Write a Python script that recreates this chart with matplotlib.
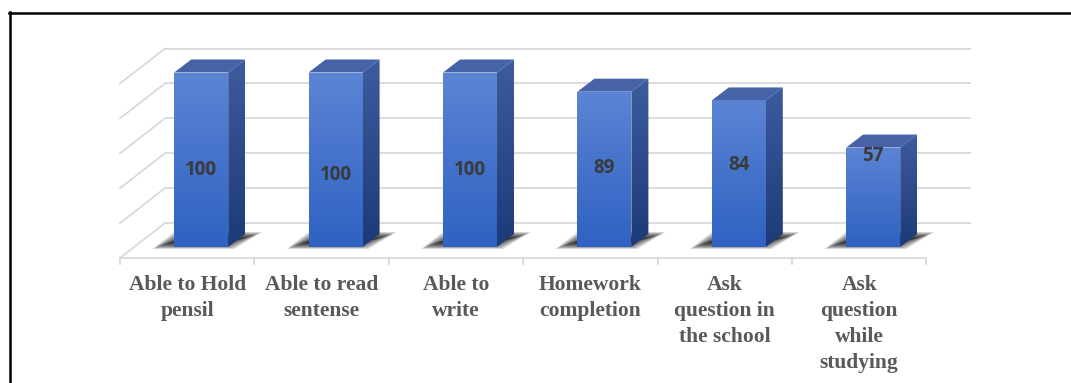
import matplotlib
matplotlib.use("Agg")
import matplotlib.pyplot as plt
import numpy as np
from matplotlib.patches import Polygon
from matplotlib.colors import to_rgb
from matplotlib.lines import Line2D

# ---- data ----
categories = ["Able to Hold\npensil", "Able to read\nsentense", "Able to\nwrite",
              "Homework\ncompletion", "Ask\nquestion in\nthe school",
              "Ask\nquestion\nwhile\nstudying"]
values = [100, 100, 100, 89, 84, 57]
value_labels = ["100", "100", "100", "89", "84", "57"]
gridline_values = [0, 20, 40, 60, 80, 100]
label_y = [44, 41, 44, 45, 47, 52]   # vertical placement of the value labels

# ---- geometry (pixels) ----
W, H = 1071, 383
CAT_PX = 134.4      # pixels per category
VAL_PX = 1.745      # pixels per value unit
X0_PX = 134         # pixel x of category -0.5 in the bar front plane
Y0_PX = 247         # pixel y of value 0 in the bar front plane

def off(dx_px, dy_up_px):
    return dx_px / CAT_PX, dy_up_px / VAL_PX

BACK = off(31, 24)
FRONT = off(-14, -11)
DEPTH = off(17, 13)
BAR_W = 54 / CAT_PX

fig = plt.figure(figsize=(W / 100, H / 100), dpi=100)
ax = fig.add_axes([0, 0, 1, 1])
ax.axis("off")
xlim = (-0.5 - X0_PX / CAT_PX, -0.5 + (W - X0_PX) / CAT_PX)
ylim = (-(H - Y0_PX) / VAL_PX, Y0_PX / VAL_PX)

grid_c = "#d9d9d9"
n = len(categories)
xl, xr = -0.5, n - 0.5

# back wall + side wall gridlines
for v in gridline_values:
    ax.plot([xl + BACK[0], xr + BACK[0]], [v + BACK[1]] * 2, color=grid_c, lw=1.3, zorder=1,
            solid_capstyle="butt")
    ax.plot([xl + BACK[0], xl + FRONT[0]], [v + BACK[1], v + FRONT[1]], color=grid_c, lw=1.3, zorder=1)
# floor front edge and ticks
ax.plot([xl + FRONT[0], xr + FRONT[0]], [FRONT[1]] * 2, color=grid_c, lw=1.3, zorder=1)
tick_len = 6 / VAL_PX
for k in range(n + 1):
    xb = k - 0.5 + FRONT[0]
    ax.plot([xb, xb], [FRONT[1], FRONT[1] - tick_len], color=grid_c, lw=1.3, zorder=1)

# shadows: blurred slanted parallelograms on the floor
for i in range(n):
    x0 = i - BAR_W / 2
    for j in range(12):
        s = j * 1.5  # inset in px
        fl = x0 - (22 - s) / CAT_PX
        fr = x0 + (60 - s) / CAT_PX
        bl = x0 + (0 + s) / CAT_PX
        br = x0 + (88 - s) / CAT_PX
        yf = (-2 + s * 0.4) / VAL_PX
        yb = (15 - s * 0.4) / VAL_PX
        p = Polygon([(fl, yf), (fr, yf), (br, yb), (bl, yb)], closed=True,
                    facecolor="black", edgecolor="none", alpha=0.12, zorder=2)
        ax.add_patch(p)

def gradient(ax, extent, c_top, c_bot, clip, z):
    t = np.linspace(0, 1, 64)[:, None]
    a, b = np.array(to_rgb(c_top)), np.array(to_rgb(c_bot))
    img = (a[None, None, :] * (1 - t[..., None]) + b[None, None, :] * t[..., None])
    img = np.repeat(img, 2, axis=1)
    im = ax.imshow(img, extent=extent, aspect="auto", origin="upper", zorder=z,
                   interpolation="bilinear")
    im.set_clip_path(clip)

for i, v in enumerate(values):
    x0, x1 = i - BAR_W / 2, i + BAR_W / 2
    dx, dy = DEPTH
    top = Polygon([(x0, v), (x1, v), (x1 + dx, v + dy), (x0 + dx, v + dy)], closed=True,
                  facecolor="#4563a6", edgecolor="none", zorder=4)
    ax.add_patch(top)
    side = Polygon([(x1, 0), (x1 + dx, dy), (x1 + dx, v + dy), (x1, v)], closed=True,
                   facecolor="none", edgecolor="none", zorder=4)
    ax.add_patch(side)
    gradient(ax, [x1, x1 + dx, 0, v + dy], "#3d5c9e", "#1d3a78", side, 4)
    front = Polygon([(x0, 0), (x1, 0), (x1, v), (x0, v)], closed=True,
                    facecolor="none", edgecolor="none", zorder=5)
    ax.add_patch(front)
    gradient(ax, [x0, x1, 0, v], "#5b84d4", "#2f62c2", front, 5)
    ax.text(i, label_y[i], value_labels[i], ha="center", va="center", fontsize=13.5,
            fontweight="bold", family="Open Sans", color="#3a3a3a", zorder=6)

# category labels
for i, c in enumerate(categories):
    ax.text(i + FRONT[0], ylim[1] - 275 / VAL_PX, c, ha="center", va="top", fontsize=15.5,
            fontweight="bold", family="Liberation Serif", color="#595959",
            linespacing=1.4, zorder=6)

ax.set_xlim(*xlim)
ax.set_ylim(*ylim)

# border (top and left visible)
fig.add_artist(Line2D([9 / W, 1], [1 - 13 / H] * 2, color="black", lw=1.8))
fig.add_artist(Line2D([10 / W] * 2, [1 - 12 / H, 0], color="black", lw=1.8))

fig.savefig("out.png", dpi=100)
